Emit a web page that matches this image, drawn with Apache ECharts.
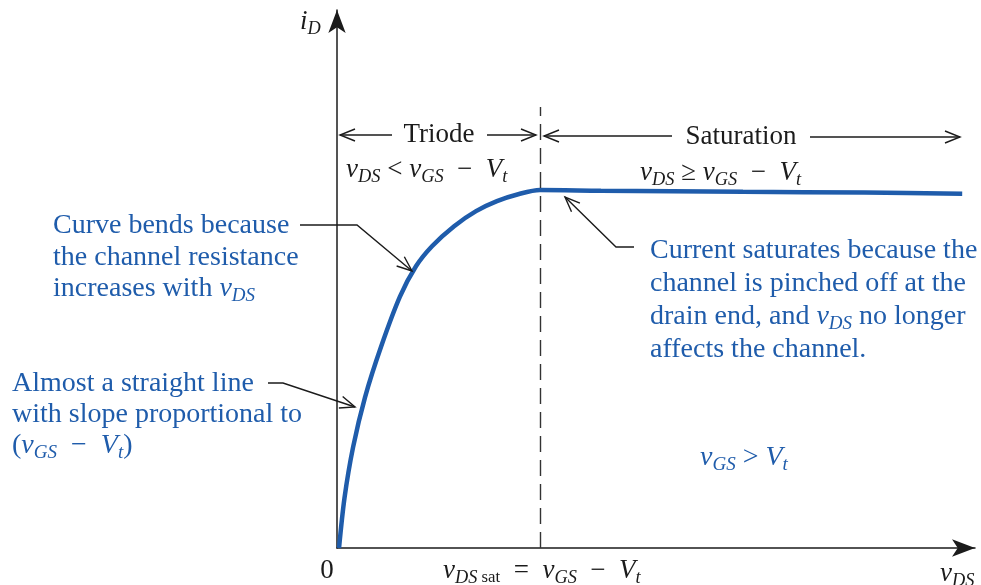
<!DOCTYPE html>
<html style="height: 100%">
<head>
 <meta charset="utf-8">
 <title>MOSFET iD - vDS</title>
 <script src="https://cdn.jsdelivr.net/npm/echarts@6/dist/echarts.min.js"></script>
</head>
<body style="height: 100%; margin: 0; background: #fff">
 <div id="main" style="width: 981px; height: 585px"></div>
 <script type="text/javascript">
 // values (vDS normalised so vDSsat = 1, iD so the peak = 1)
 var vDS = [0.010, 0.037, 0.079, 0.138, 0.217, 0.310, 0.389, 0.468, 0.577, 0.685, 0.788, 0.897, 1.0, 1.3, 2.0, 2.6, 3.08];
 var iD = [0, 0.140, 0.281, 0.421, 0.562, 0.702, 0.787, 0.843, 0.899, 0.941, 0.969, 0.989, 1.0, 0.998, 0.995, 0.993, 0.990];
 var vDSsat = 1;
 var dashTop = 1.232;
 var xMax = 3.143, yMax = 1.503;

 var serif = '"Liberation Serif", "DejaVu Serif", serif';
 var blue = '#1f5cab';
 var ink = '#1b1b1b';

 var myChart = echarts.init(document.getElementById('main'));

 function rich(color, size) {
 return {
 v: { fontFamily: serif, fontStyle: 'italic', fontSize: size, fill: color, color: color },
 s: { fontFamily: serif, fontStyle: 'italic', fontSize: size * 0.68, padding: [14, 0, 0, 0], fill: color, color: color },
 r: { fontFamily: serif, fontSize: size * 0.62, padding: [14, 0, 0, 0], fill: color, color: color },
 n: { fontFamily: serif, fontSize: size, fill: color, color: color }
 };
 }

 // y is the middle of the first line
 function txt(x, y, text, color, opts) {
 opts = opts || {};
 var size = opts.size || 27;
 var lh = opts.lineHeight || size;
 return {
 type: 'text',
 x: x, y: y - lh / 2,
 style: {
 text: text,
 fill: color,
 font: size + 'px ' + serif,
 align: opts.align || 'left',
 verticalAlign: 'top',
 lineHeight: lh,
 rich: rich(color, size)
 },
 z: 10
 };
 }

 // open "V" arrowhead at tip, coming from point f
 function head(t, f, len, wid) {
 len = len || 15; wid = wid || 6;
 var dx = t[0] - f[0], dy = t[1] - f[1];
 var d = Math.sqrt(dx * dx + dy * dy);
 var ux = dx / d, uy = dy / d;
 var px = -uy, py = ux;
 return {
 type: 'polyline',
 shape: { points: [[t[0] - ux * len + px * wid, t[1] - uy * len + py * wid], t, [t[0] - ux * len - px * wid, t[1] - uy * len - py * wid]] },
 style: { stroke: ink, lineWidth: 1.4, fill: null },
 z: 10
 };
 }

 function leader(pts) {
 return [
 { type: 'polyline', shape: { points: pts }, style: { stroke: ink, lineWidth: 1.4, fill: null }, z: 10 },
 head(pts[pts.length - 1], pts[pts.length - 2])
 ];
 }

 function hline(x1, x2, y) {
 return { type: 'line', shape: { x1: x1, y1: y, x2: x2, y2: y }, style: { stroke: ink, lineWidth: 1.4 }, z: 10 };
 }

 var graphics = [
 txt(300, 22, '{v|i}{s|D}', ink),
 // region arrows
 hline(340, 392, 135), head([340, 135], [392, 135]),
 txt(439, 135, 'Triode', ink, { align: 'center' }),
 hline(487, 536, 135), head([536, 135], [487, 135]),
 hline(544, 672, 136), head([544, 136], [672, 136]),
 txt(741, 137, 'Saturation', ink, { align: 'center' }),
 hline(810, 960, 137), head([960, 137], [810, 137]),
 txt(346, 170, '{v|v}{s|DS}{n| < }{v|v}{s|GS}{n|  −  }{v|V}{s|t}', ink),
 txt(640, 173, '{v|v}{s|DS}{n| ≥ }{v|v}{s|GS}{n|  −  }{v|V}{s|t}', ink),
 // annotations
 txt(53, 226, 'Curve bends because\nthe channel resistance\n{n|increases with }{v|v}{s|DS}', blue, { size: 28, lineHeight: 31.5 }),
 txt(12, 384, 'Almost a straight line\nwith slope proportional to\n{n|(}{v|v}{s|GS}{n|  −  }{v|V}{s|t}{n|)}', blue, { size: 28, lineHeight: 31 }),
 txt(650, 251, 'Current saturates because the\nchannel is pinched off at the\n{n|drain end, and }{v|v}{s|DS}{n| no longer}\naffects the channel.', blue, { size: 28, lineHeight: 33 }),
 txt(700, 458, '{v|v}{s|GS}{n| > }{v|V}{s|t}', blue, { size: 28 }),
 // axis labels
 txt(327, 571, '0', ink, { align: 'center' }),
 txt(443, 571, '{v|v}{s|DS}{r| sat}{n|  =  }{v|v}{s|GS}{n|  −  }{v|V}{s|t}', ink),
 txt(940, 574, '{v|v}{s|DS}', ink)
 ]
 .concat(leader([[300, 225], [357, 225], [412, 271]]))
 .concat(leader([[268, 383], [283, 383], [355, 407]]))
 .concat(leader([[634, 247], [616, 247], [565, 197]]));

 var option = {
 animation: false,
 backgroundColor: '#fff',
 grid: { left: 337, right: 6, top: 10, bottom: 37 },
 xAxis: {
 type: 'value', min: 0, max: xMax,
 axisLine: { show: true, symbol: ['none', 'arrow'], symbolSize: [13, 23], lineStyle: { color: ink, width: 1.5 } },
 axisTick: { show: false }, axisLabel: { show: false }, splitLine: { show: false }
 },
 yAxis: {
 type: 'value', min: 0, max: yMax,
 axisLine: { show: true, symbol: ['none', 'arrow'], symbolSize: [13, 23], lineStyle: { color: ink, width: 1.5 } },
 axisTick: { show: false }, axisLabel: { show: false }, splitLine: { show: false }
 },
 series: [{
 type: 'line',
 data: vDS.map(function (v, i) { return [v, iD[i]]; }),
 smooth: 0.3,
 showSymbol: false,
 lineStyle: { color: blue, width: 4.5 },
 markLine: {
 silent: true,
 symbol: 'none',
 label: { show: false },
 lineStyle: { color: '#333', width: 1.4, type: [16, 8] },
 data: [[{ coord: [vDSsat, 0] }, { coord: [vDSsat, dashTop] }]]
 }
 }],
 graphic: graphics
 };

 myChart.setOption(option);
 </script>
</body>
</html>
